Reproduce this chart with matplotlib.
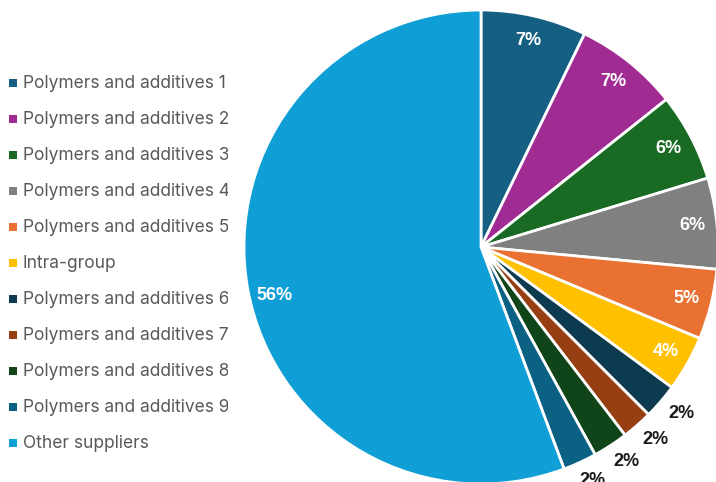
import matplotlib
matplotlib.use("Agg")
import matplotlib.pyplot as plt
from matplotlib.patches import Rectangle
import numpy as np

categories = ["Polymers and additives 1", "Polymers and additives 2", "Polymers and additives 3",
              "Polymers and additives 4", "Polymers and additives 5", "Intra-group",
              "Polymers and additives 6", "Polymers and additives 7", "Polymers and additives 8",
              "Polymers and additives 9", "Other suppliers"]
values = [7.2, 7.1, 6.0, 6.2, 4.8, 3.8, 2.4, 2.1, 2.4, 2.3, 55.7]
labels = ["7%", "7%", "6%", "6%", "5%", "4%", "2%", "2%", "2%", "2%", "56%"]
colors = ["#156082", "#A02B93", "#196B24", "#808080", "#E97132", "#FFC000",
          "#0E3A4F", "#963F12", "#104419", "#0B6184", "#0F9ED5"]
outside = [False, False, False, False, False, False, True, True, True, True, False]

W, H = 716, 482
fig = plt.figure(figsize=(W / 100, H / 100), dpi=100)
fig.patch.set_facecolor("white")

# pie axes: center (481,247) px, radius 237 px
cx, cy, r = 481, 247, 237
ax = fig.add_axes([(cx - r) / W, (H - cy - r) / H, 2 * r / W, 2 * r / H])
wedges, _ = ax.pie(values, colors=colors, startangle=90, counterclock=False, radius=1,
                   wedgeprops=dict(edgecolor="white", linewidth=2))
for w, lab, out in zip(wedges, labels, outside):
    mid = np.deg2rad((w.theta1 + w.theta2) / 2)
    if out:
        d = 1.1
        ax.text(d * np.cos(mid) + 0.012, d * np.sin(mid) + 0.015, lab, ha="center", va="center",
                fontsize=13, fontweight="bold", color="#1a1a1a", family="Liberation Sans",
                clip_on=False)
    else:
        d = 0.895
        if lab == "56%":
            mid = np.deg2rad((w.theta1 + w.theta2) / 2 + 3)
        ax.text(d * np.cos(mid), d * np.sin(mid), lab, ha="center", va="center",
                fontsize=13, fontweight="bold", color="white", family="Liberation Sans")
ax.set_xlim(-1, 1)
ax.set_ylim(-1, 1)
ax.set_aspect("equal")
ax.axis("off")

# legend axes clipped at x=228 px
lax = fig.add_axes([0, 0, 228 / W, 1])
lax.set_xlim(0, 228)
lax.set_ylim(H, 0)
lax.axis("off")
y0, dy = 83.5, 36.0
for i, (c, name) in enumerate(zip(colors, categories)):
    y = y0 + i * dy
    lax.add_patch(Rectangle((8.5, y - 5), 8, 8, facecolor=c, edgecolor="none"))
    lax.text(23, y, name, ha="left", va="center", fontsize=12.5, color="#595959",
             family="Inter", clip_on=True)

fig.savefig("out.png", dpi=100, facecolor="white")
